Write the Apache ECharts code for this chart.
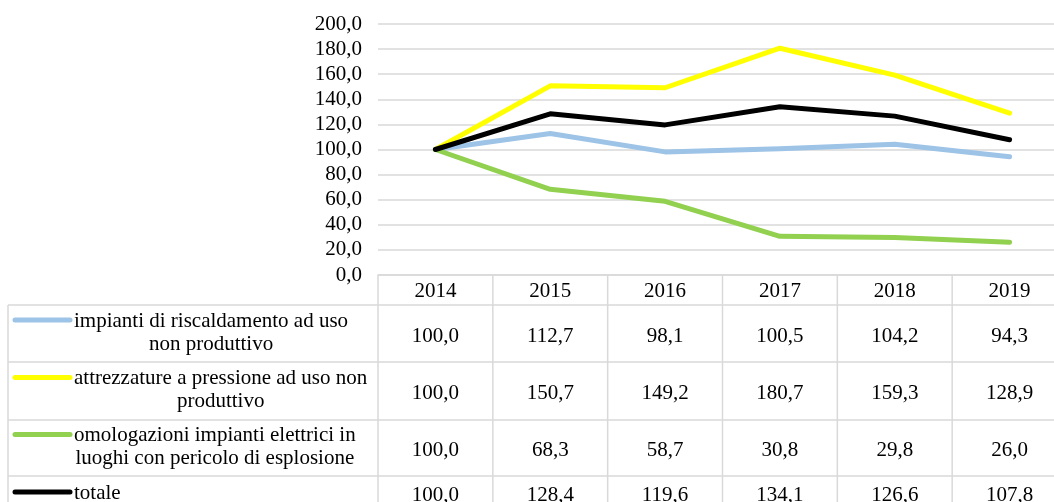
<!DOCTYPE html>
<html>
<head>
<meta charset="utf-8">
<script src="https://cdn.jsdelivr.net/npm/echarts@6/dist/echarts.min.js"></script>
<style>
  html, body { margin: 0; padding: 0; background: #fff; }
  #chart { width: 1054px; height: 502px; }
</style>
</head>
<body>
<div id="chart"></div>
<script>
  // dati (indici, 2014 = 100)
  const years = ['2014', '2015', '2016', '2017', '2018', '2019'];
  const seriesNames = [
    'impianti di riscaldamento ad uso\nnon produttivo',
    'attrezzature a pressione ad uso non\nproduttivo',
    'omologazioni impianti elettrici in\nluoghi con pericolo di esplosione',
    'totale'
  ];
  const riscaldamento = [100.0, 112.7, 98.1, 100.5, 104.2, 94.3];
  const pressione = [100.0, 150.7, 149.2, 180.7, 159.3, 128.9];
  const omologazioni = [100.0, 68.3, 58.7, 30.8, 29.8, 26.0];
  const totale = [100.0, 128.4, 119.6, 134.1, 126.6, 107.8];
  const colors = ['#9DC3E6', '#FFFF00', '#92D050', '#000000'];

  const allValues = [riscaldamento, pressione, omologazioni, totale];

  const FONT_FAMILY = '"Liberation Serif", "Times New Roman", serif';
  const FONT_SIZE = 21;
  const BORDER = '#D9D9D9';

  // tabella sotto il grafico
  const rowEdges = [305, 362, 420, 476, 510];
  const tableLeft = 8;
  const labelLeft = 74;

  const fmt = v => v.toFixed(1).replace('.', ',');

  const myChart = echarts.init(document.getElementById('chart'));

  const option = {
    animation: false,
    color: colors,
    // l'area del grafico esce un po' a destra, come nell'originale
    grid: { left: 378, top: 24, width: 689, height: 251, outerBoundsMode: 'none', containLabel: false },
    xAxis: {
      type: 'category',
      data: years,
      boundaryGap: true,
      axisLine: { show: true, lineStyle: { color: BORDER, width: 1.5 } },
      axisTick: { show: false },
      axisLabel: {
        margin: 6,
        color: '#000',
        fontFamily: FONT_FAMILY,
        fontSize: FONT_SIZE,
        lineHeight: 20
      }
    },
    yAxis: {
      type: 'value',
      min: 0,
      max: 200,
      interval: 20,
      axisLine: { show: false },
      axisTick: { show: false },
      splitLine: { lineStyle: { color: BORDER, width: 1.5 } },
      axisLabel: {
        margin: 16,
        color: '#000',
        fontFamily: FONT_FAMILY,
        fontSize: FONT_SIZE,
        formatter: v => fmt(v)
      }
    },
    series: allValues.map((vals, i) => ({
      name: seriesNames[i],
      type: 'line',
      data: vals,
      symbol: 'none',
      lineStyle: { width: 5, color: colors[i], cap: 'round', join: 'round' }
    }))
  };
  myChart.setOption(option);

  // misura testo per centrare le etichette come in Excel
  const ctx = document.createElement('canvas').getContext('2d');
  ctx.font = FONT_SIZE + 'px ' + FONT_FAMILY;
  function maxLineWidth(text) {
    return Math.max(...text.split('\n').map(l => ctx.measureText(l).width));
  }

  function buildTable() {
    const right = myChart.getWidth() + 20;
    const graphic = [];
    // righe orizzontali
    rowEdges.forEach(y => {
      graphic.push({
        type: 'line', silent: true,
        shape: { x1: tableLeft, y1: y, x2: right, y2: y },
        style: { stroke: BORDER, lineWidth: 1.5 }
      });
    });
    // bordo sinistro
    graphic.push({
      type: 'line', silent: true,
      shape: { x1: tableLeft, y1: rowEdges[0], x2: tableLeft, y2: rowEdges[rowEdges.length - 1] },
      style: { stroke: BORDER, lineWidth: 1.5 }
    });
    // separatori di colonna, sui confini delle categorie dell'asse x
    const half = (myChart.convertToPixel({ xAxisIndex: 0 }, years[1]) -
                  myChart.convertToPixel({ xAxisIndex: 0 }, years[0])) / 2;
    years.forEach((yr, c) => {
      const cx = myChart.convertToPixel({ xAxisIndex: 0 }, yr);
      const edges = c === 0 ? [cx - half, cx + half] : [cx + half];
      edges.forEach(ex => {
        graphic.push({
          type: 'line', silent: true,
          shape: { x1: ex, y1: 275, x2: ex, y2: rowEdges[rowEdges.length - 1] },
          style: { stroke: BORDER, lineWidth: 1.5 }
        });
      });
    });

    allValues.forEach((vals, r) => {
      const top = rowEdges[r];
      const bottom = rowEdges[r + 1];
      const mid = (top + bottom) / 2;
      const lines = seriesNames[r].split('\n').length;
      const blockMid = lines > 1 ? mid - 1 : mid;
      const firstLine = blockMid - (lines - 1) * 23 / 2;

      // chiave della legenda
      graphic.push({
        type: 'line', silent: true,
        shape: { x1: 15, y1: firstLine - 1, x2: 70, y2: firstLine - 1 },
        style: { stroke: colors[r], lineWidth: 5, lineCap: 'round' }
      });
      // nome serie
      graphic.push({
        type: 'text', silent: true,
        x: labelLeft + maxLineWidth(seriesNames[r]) / 2,
        y: blockMid,
        style: {
          text: seriesNames[r],
          fill: '#000',
          fontFamily: FONT_FAMILY,
          fontSize: FONT_SIZE,
          lineHeight: 23,
          align: 'center',
          verticalAlign: 'middle'
        }
      });
      // valori
      vals.forEach((v, c) => {
        const x = myChart.convertToPixel({ xAxisIndex: 0 }, years[c]);
        graphic.push({
          type: 'text', silent: true,
          x: x,
          y: mid + 2.5,
          style: {
            text: fmt(v),
            fill: '#000',
            fontFamily: FONT_FAMILY,
            fontSize: FONT_SIZE,
            align: 'center',
            verticalAlign: 'middle'
          }
        });
      });
    });
    myChart.setOption({ graphic: graphic });
  }

  buildTable();
  window.addEventListener('resize', () => { myChart.resize(); buildTable(); });
</script>
</body>
</html>
